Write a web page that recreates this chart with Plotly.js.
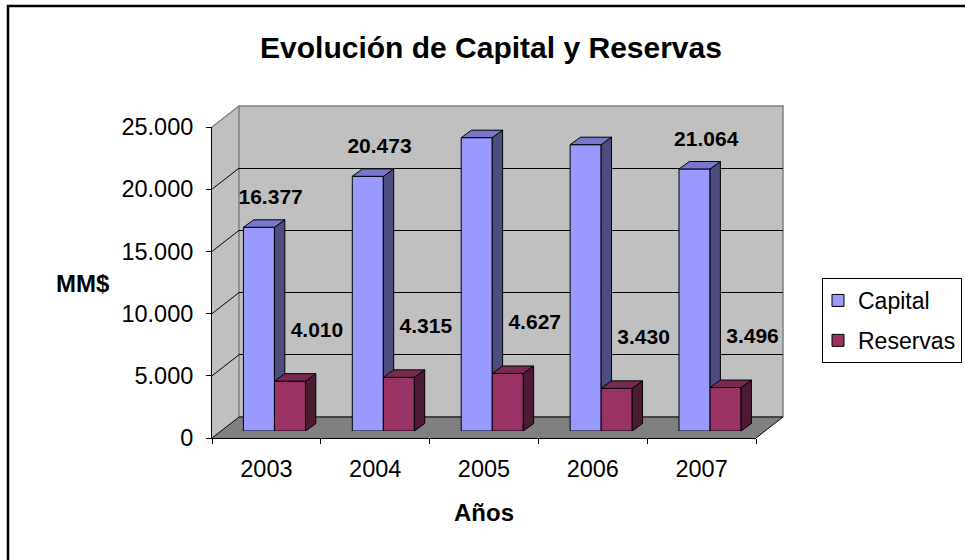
<!DOCTYPE html>
<html><head><meta charset="utf-8">
<script src="https://cdn.plot.ly/plotly-3.0.1.min.js"></script>
<style>html,body{margin:0;padding:0;background:#fff}#chart{width:965px;height:560px}</style>
</head><body><div id="chart"></div>
<script>
// ---- data ----
const years = ['2003', '2004', '2005', '2006', '2007'];
const capital = [16377, 20473, 23581, 23018, 21064];
const reservas = [4010, 4315, 4627, 3430, 3496];
const yTicks = [0, 5000, 10000, 15000, 20000, 25000];
const seriesNames = ['Capital', 'Reservas'];
const chartTitle = 'Evolución de Capital y Reservas';
const xTitle = 'Años';
const yTitle = 'MM$';

// ---- geometry / style ----
const W = 965, H = 560;
const FONT = 'Liberation Sans, Arial, sans-serif';
const FRONT = {x0: 212, x1: 756, yb: 438, yt: 127};
const BACK  = {x0: 239, x1: 783, yb: 417, yt: 106};
const BARS  = {x0: 220, x1: 764.5, yb: 431, yt: 120};
const YMAX = 25000;
const px = x => x / W, py = y => 1 - y / H;
const fy = v => FRONT.yb - (FRONT.yb - FRONT.yt) * v / YMAX;
const by = v => BACK.yb - (BACK.yb - BACK.yt) * v / YMAX;
const BARGAP = 0.43, BW = (1 - BARGAP) / 2;
const DX = 0.095, DY = 600;
const COL = {
  cap: {front: '#9999ff', top: '#7777cc', side: '#4d4d80'},
  res: {front: '#993366', top: '#7a2952', side: '#4d1a33'}
};
const fmt = v => String(v).replace(/\B(?=(\d{3})+(?!\d))/g, '.');
const idx = years.map((_, i) => i);

const traces = [];
// front axes dummy
traces.push({type: 'scatter', mode: 'markers', x: years, y: years.map(() => null),
  xaxis: 'x', yaxis: 'y', showlegend: false, hoverinfo: 'skip'});
// back wall dummy
traces.push({type: 'scatter', mode: 'markers', x: [0], y: [null],
  xaxis: 'x2', yaxis: 'y2', showlegend: false, hoverinfo: 'skip'});
// front faces
traces.push({type: 'bar', name: seriesNames[0], legendgroup: 'g1', x: idx, y: capital, xaxis: 'x3', yaxis: 'y3',
  marker: {color: COL.cap.front, line: {color: '#000', width: 1}}, hoverinfo: 'skip'});
traces.push({type: 'bar', name: seriesNames[1], legendgroup: 'g2', x: idx, y: reservas, xaxis: 'x3', yaxis: 'y3',
  marker: {color: COL.res.front, line: {color: '#000', width: 1}}, hoverinfo: 'skip'});

function poly(xs, ys, color) {
  return {type: 'scatter', mode: 'lines', x: xs.concat([xs[0]]), y: ys.concat([ys[0]]),
    xaxis: 'x3', yaxis: 'y3', fill: 'toself', fillcolor: color,
    line: {color: '#000', width: 1}, showlegend: false, hoverinfo: 'skip'};
}
// capital side + top faces
idx.forEach(i => {
  const xl = i - BW, xr = i, c = capital[i], r = reservas[i];
  traces.push(poly([xr, xr + DX, xr + DX, xr], [r, r, c + DY, c], COL.cap.side));
  traces.push(poly([xl, xl + DX, xr + DX, xr], [c, c + DY, c + DY, c], COL.cap.top));
});
// reservas side + top faces
idx.forEach(i => {
  const xl = i, xr = i + BW, r = reservas[i];
  traces.push(poly([xr, xr + DX, xr + DX, xr], [0, DY, r + DY, r], COL.res.side));
  traces.push(poly([xl, xl + DX, xr + DX, xr], [r, r + DY, r + DY, r], COL.res.top));
});
// data labels
traces.push({type: 'scatter', mode: 'text', x: idx.map(i => i - 0.035), y: capital.map(v => v + 2300),
  text: capital.map(fmt), textposition: 'middle center', xaxis: 'x3', yaxis: 'y3',
  textfont: {family: FONT, size: 21, color: '#000', weight: 700}, showlegend: false, hoverinfo: 'skip', cliponaxis: false});
traces.push({type: 'scatter', mode: 'text', x: idx.map(i => i + 0.39), y: reservas.map(v => v + 4000),
  text: reservas.map(fmt), textposition: 'middle center', xaxis: 'x3', yaxis: 'y3',
  textfont: {family: FONT, size: 21, color: '#000', weight: 700}, showlegend: false, hoverinfo: 'skip', cliponaxis: false});

// decorative walls
const shapes = [];
shapes.push({type: 'path', xref: 'paper', yref: 'paper', layer: 'below',
  path: `M${px(FRONT.x0)},${py(fy(YMAX))} L${px(BACK.x0)},${py(by(YMAX))} L${px(BACK.x0)},${py(by(0))} L${px(FRONT.x0)},${py(fy(0))} Z`,
  fillcolor: '#c0c0c0', line: {width: 0}});
shapes.push({type: 'rect', xref: 'paper', yref: 'paper', layer: 'below',
  x0: px(BACK.x0), x1: px(BACK.x1), y0: py(BACK.yb), y1: py(BACK.yt),
  fillcolor: '#c0c0c0', line: {color: '#808080', width: 1.5}});
shapes.push({type: 'path', xref: 'paper', yref: 'paper', layer: 'below',
  path: `M${px(FRONT.x0)},${py(fy(0))} L${px(BACK.x0)},${py(by(0))} L${px(BACK.x1)},${py(by(0))} L${px(FRONT.x1)},${py(fy(0))} Z`,
  fillcolor: '#808080', line: {width: 0}});
yTicks.forEach(v => {
  shapes.push({type: 'line', xref: 'paper', yref: 'paper', layer: 'below',
    x0: px(FRONT.x0), y0: py(fy(v)), x1: px(BACK.x0), y1: py(by(v)),
    line: {color: v === YMAX ? '#808080' : '#000', width: v === YMAX ? 1.5 : 1}});
});
shapes.push({type: 'line', xref: 'paper', yref: 'paper', layer: 'below',
  x0: px(FRONT.x1), y0: py(fy(0)), x1: px(BACK.x1), y1: py(by(0)), line: {color: '#000', width: 1}});
shapes.push({type: 'line', xref: 'paper', yref: 'paper', layer: 'below',
  x0: px(BACK.x0), y0: py(by(0)), x1: px(BACK.x1), y1: py(by(0)), line: {color: '#000', width: 1}});
// chart frame
shapes.push({type: 'rect', xref: 'paper', yref: 'paper', layer: 'above',
  x0: px(8), y0: py(6), x1: px(967), y1: py(563), line: {color: '#000', width: 2.5}, fillcolor: 'rgba(0,0,0,0)'});

const layout = {
  width: W, height: H, margin: {l: 0, r: 0, t: 0, b: 0},
  paper_bgcolor: '#fff', plot_bgcolor: 'rgba(0,0,0,0)',
  separators: ',.', barmode: 'group', bargap: BARGAP, bargroupgap: 0,
  font: {family: FONT, color: '#000'},
  title: {text: chartTitle, x: px(491), xanchor: 'center', y: py(47), yanchor: 'middle',
    xref: 'paper', yref: 'paper', font: {size: 30, weight: 700, family: FONT}},
  xaxis: {domain: [px(FRONT.x0), px(FRONT.x1)], anchor: 'y', type: 'category',
    categoryorder: 'array', categoryarray: years, range: [-0.5, 4.5],
    tickson: 'boundaries', ticks: 'outside', ticklen: 5, tickcolor: '#000', tickwidth: 1,
    showline: true, linecolor: '#000', linewidth: 1, showgrid: false, zeroline: false,
    tickfont: {size: 23.5}, ticklabelstandoff: 10,
    title: {text: xTitle, font: {size: 24, weight: 700}, standoff: 22}, fixedrange: true},
  yaxis: {domain: [py(FRONT.yb), py(FRONT.yt)], anchor: 'x', range: [0, YMAX],
    tickvals: yTicks, tickformat: ',d', ticks: 'outside', ticklen: 5, tickcolor: '#000',
    showline: true, linecolor: '#000', linewidth: 1, showgrid: false, zeroline: false,
    tickfont: {size: 23.5}, ticklabelstandoff: 8, fixedrange: true},
  xaxis2: {domain: [px(BACK.x0), px(BACK.x1)], anchor: 'y2', range: [0, 1], visible: false, fixedrange: true},
  yaxis2: {domain: [py(BACK.yb), py(BACK.yt)], anchor: 'x2', range: [0, YMAX],
    tickvals: yTicks.slice(0, -1), showgrid: true, gridcolor: '#000', gridwidth: 1,
    showticklabels: false, ticks: '', showline: false, zeroline: false, fixedrange: true},
  xaxis3: {domain: [px(BARS.x0), px(BARS.x1)], anchor: 'y3', range: [-0.5, 4.5], visible: false, fixedrange: true},
  yaxis3: {domain: [py(BARS.yb), py(BARS.yt)], anchor: 'x3', range: [0, YMAX], visible: false, fixedrange: true},
  legend: {x: px(822), y: py(278), xanchor: 'left', yanchor: 'top', bgcolor: '#fff',
    bordercolor: '#000', borderwidth: 1, font: {size: 23}, tracegroupgap: 7, indentation: -5},
  annotations: [{text: yTitle, x: px(83), y: py(283), xref: 'paper', yref: 'paper', showarrow: false,
    xanchor: 'center', yanchor: 'middle', font: {size: 24, weight: 700}}],
  shapes: shapes
};
Plotly.newPlot('chart', traces, layout, {staticPlot: true, displayModeBar: false});
</script></body></html>
